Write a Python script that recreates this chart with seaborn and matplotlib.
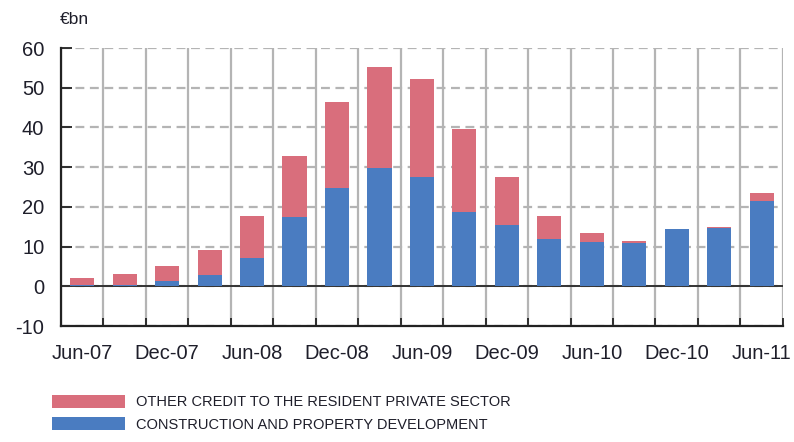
import matplotlib
matplotlib.use("Agg")
import matplotlib.pyplot as plt
import seaborn as sns
import pandas as pd
from matplotlib.patches import Patch

quarters = ["Jun-07", "Sep-07", "Dec-07", "Mar-08", "Jun-08", "Sep-08", "Dec-08", "Mar-09",
            "Jun-09", "Sep-09", "Dec-09", "Mar-10", "Jun-10", "Sep-10", "Dec-10", "Mar-11", "Jun-11"]
construction = [0.3, 0.3, 1.3, 2.9, 7.2, 17.5, 24.7, 29.9, 27.4, 18.8, 15.4, 11.8, 11.2, 11.0, 14.4, 14.7, 21.5]
other_credit = [1.9, 2.7, 3.7, 6.2, 10.4, 15.4, 21.6, 25.4, 24.7, 20.7, 12.0, 5.8, 2.2, 0.5, 0.0, 0.2, 1.9]
tick_labels = ["Jun-07", "Dec-07", "Jun-08", "Dec-08", "Jun-09", "Dec-09", "Jun-10", "Dec-10", "Jun-11"]
yticks = [-10, 0, 10, 20, 30, 40, 50, 60]

label_other = "OTHER CREDIT TO THE RESIDENT PRIVATE SECTOR"
label_constr = "CONSTRUCTION AND PROPERTY DEVELOPMENT"

RED = "#D96E7C"
BLUE = "#4A7CC1"
GRID = "#B4B4B4"
TXT = "#1E1E2A"

df = pd.DataFrame({"quarter": quarters, "construction": construction, "other": other_credit})
df["total"] = df["construction"] + df["other"]

sns.set_theme(style="white")
plt.rcParams["font.family"] = ["Liberation Sans", "DejaVu Sans"]

fig = plt.figure(figsize=(7.94, 4.42), dpi=100)
ax = fig.add_axes([0.0768, 0.2624, 0.9092, 0.629])

sns.barplot(data=df, x="quarter", y="total", color=RED, width=0.57, saturation=1,
            ax=ax, linewidth=0, zorder=3)
sns.barplot(data=df, x="quarter", y="construction", color=BLUE, width=0.57, saturation=1,
            ax=ax, linewidth=0, zorder=3)

n = len(quarters)
ax.set_xlim(-0.5, n - 0.5)
ax.set_ylim(-10, 60)

# boundaries as major ticks (grid + tick marks), labels on minor ticks at centers
ax.set_xticks([i - 0.5 for i in range(n + 1)])
ax.set_xticklabels([])
label_pos = [quarters.index(l) for l in tick_labels]
ax.set_xticks(label_pos, minor=True)
ax.set_xticklabels(tick_labels, minor=True)
ax.tick_params(axis="x", which="major", direction="in", length=6, width=1.3, color="#222222", bottom=True)
ax.tick_params(axis="x", which="minor", length=0, pad=13, labelsize=14.5, labelcolor=TXT)

ax.set_yticks(yticks)
ax.set_yticklabels([str(v) for v in yticks])
ax.tick_params(axis="y", direction="in", length=8, width=1.3, color="#222222", left=True,
               pad=12, labelsize=14.5, labelcolor=TXT)

ax.grid(False)
ax.xaxis.grid(True, which="major", color=GRID, linewidth=1.6, linestyle="-", zorder=0)
ax.yaxis.grid(True, which="major", color=GRID, linewidth=1.6, linestyle=(0, (4, 2.5)), zorder=0)
ax.set_axisbelow(True)
ax.axhline(0, color="#333333", linewidth=1.4, zorder=2)

for s in ["top", "right"]:
    ax.spines[s].set_visible(False)
for s in ["left", "bottom"]:
    ax.spines[s].set_color("#222222")
    ax.spines[s].set_linewidth(1.6)

ax.set_xlabel("")
ax.set_ylabel("")

fig.text(0.075, 1 - 20 / 442, "€bn", fontsize=12.5, color=TXT, va="center", ha="left")

handles = [Patch(facecolor=RED, edgecolor="none", label=label_other),
           Patch(facecolor=BLUE, edgecolor="none", label=label_constr)]
fig.legend(handles=handles, loc="upper left", bbox_to_anchor=(0.066, 1 - 395 / 442),
           frameon=False, borderpad=0, borderaxespad=0, handlelength=5.0, handleheight=0.95,
           handletextpad=0.75, labelspacing=0.55,
           prop={"family": ["Liberation Sans Narrow", "Liberation Sans"], "size": 10.5},
           labelcolor=TXT)

fig.savefig("out.png", dpi=100)
